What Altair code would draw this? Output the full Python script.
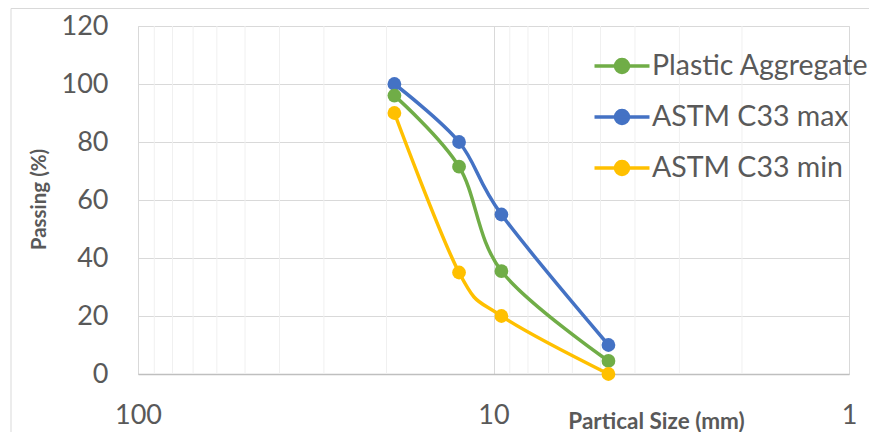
import altair as alt
import pandas as pd

# ---- data ----
sizes = [19, 12.5, 9.5, 4.75]
plastic = [96, 71.5, 35.5, 4.5]
astm_max = [100, 80, 55, 10]
astm_min = [90, 35, 20, 0]
series_names = ["Plastic Aggregate", "ASTM C33 max", "ASTM C33 min"]
series_colors = ["#70AD47", "#4472C4", "#FFC000"]
x_ticks = [100, 10, 1]
minor_ticks = [90, 80, 70, 60, 50, 40, 30, 20, 9, 8, 7, 6, 5, 4, 3, 2]
y_ticks = [0, 20, 40, 60, 80, 100, 120]

rows = []
for name, vals in zip(series_names, [plastic, astm_max, astm_min]):
    for s, v in zip(sizes, vals):
        rows.append({"series": name, "size": s, "passing": v})
df = pd.DataFrame(rows)
minor_df = pd.DataFrame({"size": minor_ticks})
one = pd.DataFrame({"a": [0]})

W, H = 711, 348
FONT = "Lato"
TXT = "#595959"

xscale = alt.Scale(type="log", domain=[1, 100], reverse=True, nice=False)
yscale = alt.Scale(domain=[0, 120], nice=False)

xaxis = alt.Axis(values=x_ticks, format="d", grid=True, gridColor="#d9d9d9",
                 ticks=False, domain=True, domainColor="#bfbfbf", domainWidth=1.5,
                 labelFontSize=27, labelColor=TXT, labelFont=FONT, labelPadding=28,
                 title="Partical Size (mm)", titleFont=FONT, titleFontSize=22.5,
                 titleFontWeight="bold", titleColor=TXT, titleX=518, titleY=47,
                 titleAlign="center", titleBaseline="middle", labelFlush=False)
yaxis = alt.Axis(values=y_ticks, grid=True, gridColor="#d9d9d9", ticks=False,
                 domain=False, labelFontSize=27, labelColor=TXT, labelFont=FONT,
                 labelPadding=30, title="Passing (%)", titleFont=FONT,
                 titleFontSize=20.5, titleFontWeight="bold", titleColor=TXT,
                 titleX=-99, titleY=H / 2 - 1, titleAlign="center",
                 titleBaseline="middle", titleAngle=-90)

r = 0.433
L = 1.833
path = (f"M-{L},0L{L},0M-{r},0A{r},{r},0,1,1,{r},0A{r},{r},0,1,1,-{r},0Z")

color = alt.Color(
    "series:N",
    scale=alt.Scale(domain=series_names, range=series_colors),
    legend=alt.Legend(
        title=None, orient="none", legendX=467, legendY=23,
        symbolType=path, symbolSize=900, symbolStrokeWidth=3.5,
        labelFontSize=28.5, labelFont=FONT, labelColor=TXT, labelOffset=13,
        labelLimit=0, rowPadding=19, padding=0, symbolOpacity=1,
    ),
)

minor = alt.Chart(minor_df).mark_rule(color="#f0f0f0", strokeWidth=1).encode(
    x=alt.X("size:Q", scale=xscale, axis=xaxis)
)

layers = [minor]
for name in ["ASTM C33 max", "Plastic Aggregate", "ASTM C33 min"]:
    base = alt.Chart(df).transform_filter(alt.datum.series == name)
    line = base.mark_line(interpolate="cardinal", strokeWidth=3.5).encode(
        x=alt.X("size:Q", scale=xscale, axis=xaxis),
        y=alt.Y("passing:Q", scale=yscale, axis=yaxis),
        color=color,
    )
    pts = base.mark_point(filled=True, size=190, opacity=1, shape="circle").encode(
        x=alt.X("size:Q", scale=xscale, axis=xaxis),
        y=alt.Y("passing:Q", scale=yscale, axis=yaxis),
        color=color,
    )
    layers += [line, pts]

top_border = alt.Chart(one).mark_rule(color="#d9d9d9", strokeWidth=1).encode(
    x=alt.value(-127), x2=alt.value(760), y=alt.value(-17.5))
left_border = alt.Chart(one).mark_rule(color="#d9d9d9", strokeWidth=1).encode(
    x=alt.value(-127), y=alt.value(-17.5), y2=alt.value(430))
layers += [top_border, left_border]

chart = alt.layer(*layers).properties(
    width=W, height=H,
    autosize=alt.AutoSizeParams(type="none"),
    padding={"left": 130, "top": 18, "right": 20, "bottom": 58},
).configure_view(stroke=None).configure(background="white")

chart.save("out.html", embed_options={"renderer": "svg", "actions": False})
